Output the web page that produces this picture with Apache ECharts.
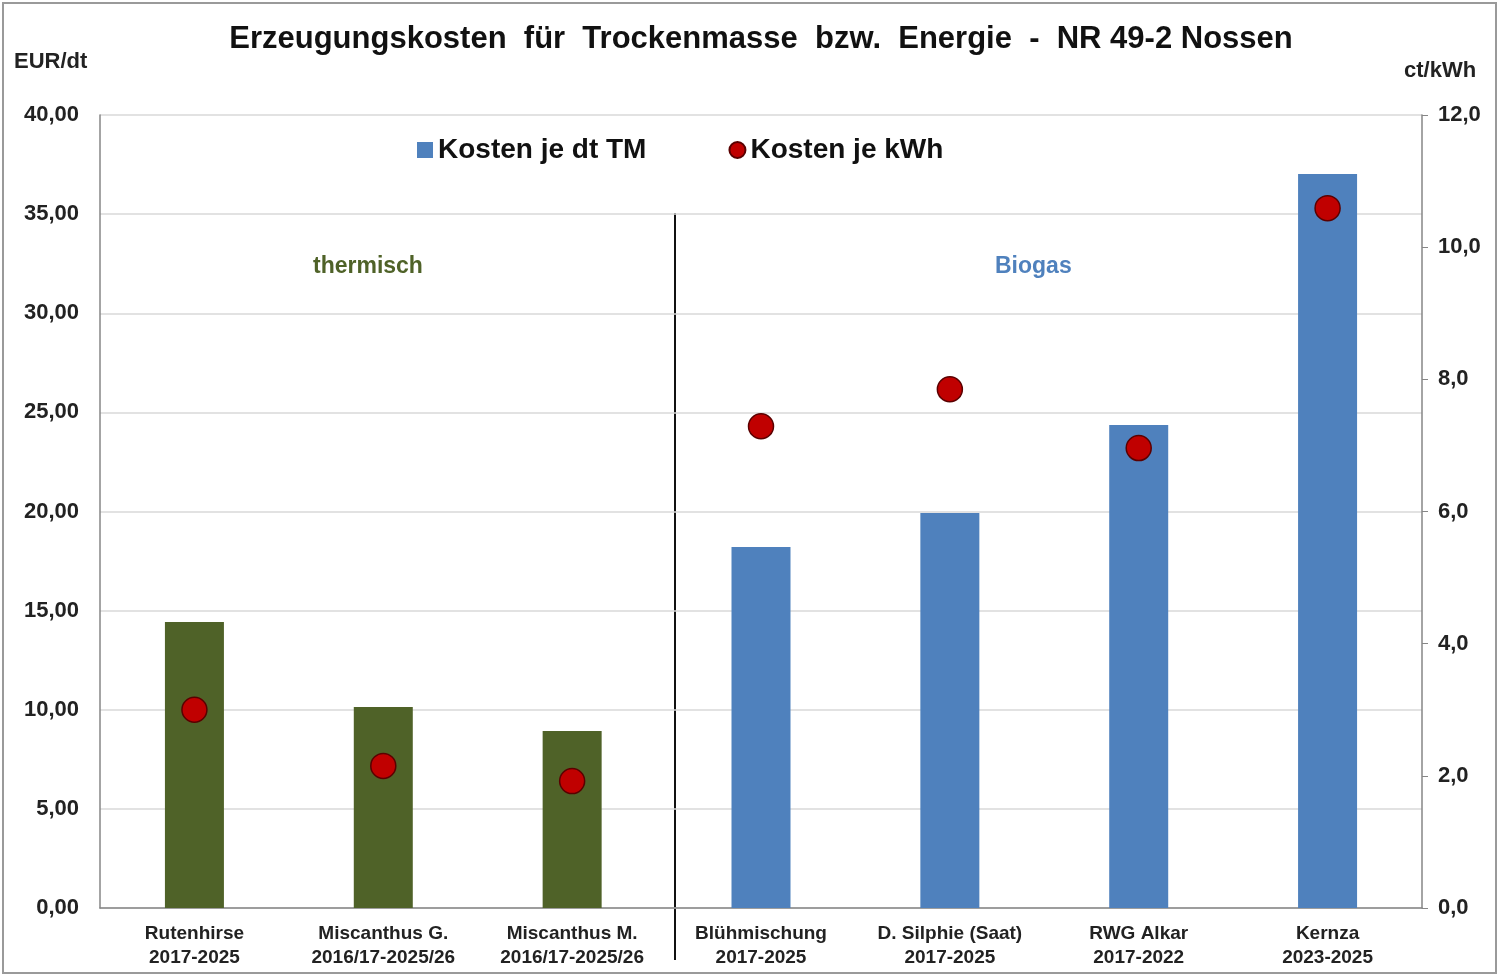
<!DOCTYPE html>
<html>
<head>
<meta charset="utf-8">
<script src="https://cdn.jsdelivr.net/npm/echarts@6/dist/echarts.min.js"></script>
<style>
  html, body {margin: 0; padding: 0; background: #fff;}
  #chart {width: 1499px; height: 977px;}
</style>
</head>
<body>
<div id="chart"></div>
<script>
const categories = [
  'Rutenhirse\n2017-2025',
  'Miscanthus G.\n2016/17-2025/26',
  'Miscanthus M.\n2016/17-2025/26',
  'Blühmischung\n2017-2025',
  'D. Silphie (Saat)\n2017-2025',
  'RWG Alkar\n2017-2022',
  'Kernza\n2023-2025'
]
const costPerDt = [14.43, 10.14, 8.93, 18.21, 19.92, 24.36, 37.02]
const costPerKwh = [3.00, 2.15, 1.92, 7.29, 7.85, 6.96, 10.59]
const groupOf = ['thermisch', 'thermisch', 'thermisch', 'Biogas', 'Biogas', 'Biogas', 'Biogas']

const GREEN = '#4f6228'
const BLUE = '#4f81bd'
const RED = '#c00000'
const FONT = '"Liberation Sans", Arial, sans-serif'

const chart = echarts.init(document.getElementById('chart'))

const option = {
  backgroundColor: '#fff',
  animation: false,
  textStyle: {fontFamily: FONT},
  title: {
    text: 'Erzeugungskosten  für  Trockenmasse  bzw.  Energie  -  NR 49-2 Nossen',
    left: 756,
    top: 19,
    textAlign: 'center',
    textStyle: {fontSize: 31, fontWeight: 'bold', color: '#111', fontFamily: FONT}
  },
  legend: {
    top: 131,
    left: 412,
    itemGap: 82,
    itemWidth: 16,
    itemHeight: 16,
    textStyle: {fontSize: 28, fontWeight: 'bold', color: '#111', fontFamily: FONT, padding: [0, 0, 0, 0]},
    data: [
      {name: 'Kosten je dt TM', icon: 'rect', itemStyle: {color: BLUE}},
      {name: 'Kosten je kWh', icon: 'circle', itemStyle: {color: RED}}
    ]
  },
  grid: {left: 100, right: 77, top: 115, bottom: 69, containLabel: false},
  xAxis: {
    type: 'category',
    data: categories,
    axisLine: {lineStyle: {color: '#868686', width: 1.5}},
    axisTick: {show: false},
    axisLabel: {
      interval: 0,
      margin: 14,
      fontSize: 19,
      fontWeight: 'bold',
      color: '#222',
      lineHeight: 24
    }
  },
  yAxis: [
    {
      type: 'value',
      min: 0, max: 40, interval: 5,
      position: 'left',
      axisLine: {show: true, lineStyle: {color: '#868686', width: 1.5}},
      axisTick: {show: false},
      splitLine: {lineStyle: {color: '#d9d9d9', width: 1.5}},
      axisLabel: {
        fontSize: 22, fontWeight: 'bold', color: '#222', margin: 21,
        formatter: v => v.toFixed(2).replace('.', ',')
      }
    },
    {
      type: 'value',
      min: 0, max: 12, interval: 2,
      position: 'right',
      axisLine: {show: true, lineStyle: {color: '#868686', width: 1.5}},
      axisTick: {show: true, inside: false, length: 6, lineStyle: {color: '#868686'}},
      splitLine: {show: false},
      axisLabel: {
        fontSize: 22, fontWeight: 'bold', color: '#222', margin: 16,
        formatter: v => v.toFixed(1).replace('.', ',')
      }
    }
  ],
  series: [
    {
      name: 'Kosten je dt TM',
      type: 'bar',
      yAxisIndex: 0,
      barWidth: 59,
      itemStyle: {color: BLUE},
      data: costPerDt.map((v, i) => ({
        value: v,
        itemStyle: {color: groupOf[i] === 'thermisch' ? GREEN : BLUE}
      }))
    },
    {
      name: 'Kosten je kWh',
      type: 'scatter',
      yAxisIndex: 1,
      symbol: 'circle',
      symbolSize: 25,
      itemStyle: {color: RED, opacity: 1, borderColor: '#5a0000', borderWidth: 1.5},
      data: costPerKwh,
      z: 5
    }
  ],
  graphic: [
    {
      type: 'rect',
      shape: {x: 3, y: 3, width: 1493, height: 970},
      style: {fill: 'none', stroke: '#9a9a9a', lineWidth: 2},
      silent: true
    },
    {
      type: 'line',
      shape: {x1: 675, y1: 213, x2: 675, y2: 960},
      style: {stroke: '#111', lineWidth: 2}
    },
    {
      type: 'text', left: 14, top: 51,
      style: {text: 'EUR/dt', font: 'bold 22px ' + FONT, fill: '#222'}
    },
    {
      type: 'text', left: 1404, top: 60,
      style: {text: 'ct/kWh', font: 'bold 22px ' + FONT, fill: '#222'}
    },
    {
      type: 'text', left: 313, top: 255,
      style: {text: 'thermisch', font: 'bold 23px ' + FONT, fill: GREEN}
    },
    {
      type: 'text', left: 995, top: 255,
      style: {text: 'Biogas', font: 'bold 23px ' + FONT, fill: BLUE}
    }
  ]
}

chart.setOption(option)
</script>
</body>
</html>
